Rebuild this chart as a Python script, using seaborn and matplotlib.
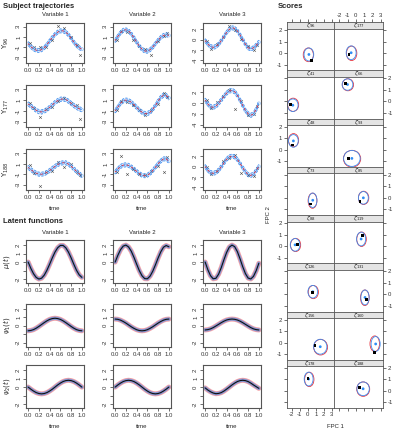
import matplotlib
matplotlib.use("Agg")
import matplotlib.pyplot as plt
from matplotlib.patches import Ellipse
import seaborn as sns

sns.set_style("ticks")
plt.rcParams['font.family'] = ['Liberation Sans', 'DejaVu Sans']
plt.rcParams['axes.unicode_minus'] = False

W, H = 397, 432

# ---- data ----
time = [0.0, 0.05, 0.1, 0.15, 0.2, 0.25, 0.3, 0.35, 0.4, 0.45, 0.5,
        0.55, 0.6, 0.65, 0.7, 0.75, 0.8, 0.85, 0.9, 0.95, 1.0]

# fitted subject curves
y96_v1 = [-0.3, -0.9, -1.35, -1.6, -1.65, -1.5, -1.1, -0.5, 0.2, 0.9, 1.5, 1.95, 2.2, 2.2, 1.95, 1.45, 0.75, 0.0, -0.65, -1.1, -1.4]
y96_v2 = [0.3, 1.1, 1.8, 2.3, 2.4, 2.2, 1.6, 0.85, 0.0, -0.8, -1.4, -1.75, -1.8, -1.5, -1.0, -0.3, 0.35, 0.9, 1.3, 1.45, 1.3]
y96_v3 = [-0.2, -0.85, -1.35, -1.5, -1.35, -0.9, -0.2, 0.6, 1.4, 2.0, 2.3, 2.2, 1.7, 0.9, 0.0, -0.9, -1.6, -1.8, -1.6, -1.1, -0.5]
y177_v1 = [0.3, -0.1, -0.5, -0.9, -1.15, -1.2, -1.05, -0.75, -0.35, 0.1, 0.55, 0.9, 1.15, 1.2, 1.1, 0.8, 0.4, 0.0, -0.35, -0.6, -0.8]
y177_v2 = [-1.0, -0.3, 0.4, 0.85, 1.0, 0.9, 0.6, 0.15, -0.35, -0.85, -1.25, -1.5, -1.5, -1.25, -0.7, 0.0, 0.8, 1.5, 1.9, 1.85, 1.4]
y177_v3 = [0.5, -0.2, -0.7, -0.8, -0.6, -0.1, 0.55, 1.2, 1.8, 2.2, 2.3, 2.05, 1.4, 0.5, -0.5, -1.4, -2.0, -2.3, -2.0, -1.2, -0.1]
y188_v1 = [0.3, -0.1, -0.5, -0.8, -1.0, -1.0, -0.9, -0.65, -0.3, 0.1, 0.5, 0.85, 1.1, 1.2, 1.2, 0.95, 0.55, 0.05, -0.45, -0.9, -1.3]
y188_v2 = [-0.6, 0.0, 0.5, 0.75, 0.8, 0.7, 0.4, 0.0, -0.45, -0.9, -1.2, -1.3, -1.2, -0.85, -0.3, 0.35, 1.0, 1.55, 1.95, 1.95, 1.5]
y188_v3 = [0.0, -0.7, -1.15, -1.3, -1.15, -0.7, -0.05, 0.7, 1.4, 1.85, 2.0, 1.85, 1.35, 0.6, -0.25, -1.0, -1.55, -1.7, -1.45, -0.8, 0.0]
traj_band = 0.4

# observed data
obs_t = [0.03, 0.11, 0.22, 0.33, 0.44, 0.56, 0.67, 0.79, 0.91, 0.97]
obs96_v1 = [-0.2, -1.0, -1.0, -0.9, 0.5, 3.1, 2.7, 1.0, -0.5, -2.6]
obs96_v2 = [0.5, 2.2, 2.0, 0.4, -0.8, -1.4, -2.6, 0.3, 1.2, 1.8]
obs96_v3 = [-0.3, -1.8, -0.9, 0.5, 2.6, 1.8, 0.2, -1.3, -2.0, -1.1]
obs177_v1 = [0.4, -0.4, -2.2, -0.7, -0.3, 0.9, 1.4, 0.5, 0.0, -2.5]
obs177_v2 = [-0.8, 0.8, 0.6, 0.1, -0.9, -1.8, -0.8, 0.3, 2.3, 1.5]
obs177_v3 = [0.6, -1.0, 0.1, 1.3, 2.4, -1.1, 0.3, -2.3, -2.0, -0.5]
obs188_v1 = [0.7, -0.8, -3.3, -0.5, -0.4, 1.3, 0.4, 0.9, -0.5, -1.2]
obs188_v2 = [-0.6, 2.6, -1.0, 0.0, -1.0, -1.1, -0.4, 0.6, -0.5, 2.4]
obs188_v3 = [0.0, -1.5, -0.8, 1.0, 1.6, 2.2, -1.2, -1.6, -1.8, -0.2]

# latent functions
mu_v1 = [0.0, -0.74, -1.37, -1.81, -2.0, -1.9, -1.54, -0.96, -0.25, 0.5, 1.18, 1.69, 1.96, 1.96, 1.69, 1.18, 0.5, -0.25, -0.96, -1.5, -1.8]
mu_v2 = [0.0, 0.79, 1.46, 1.88, 2.0, 1.78, 1.28, 0.56, -0.24, -1.01, -1.61, -1.95, -1.97, -1.66, -1.08, -0.33, 0.48, 1.21, 1.75, 1.95, 1.8]
mu_v3 = [0.0, -0.9, -1.61, -1.97, -1.91, -1.43, -0.65, 0.28, 1.14, 1.76, 2.0, 1.81, 1.23, 0.38, -0.55, -1.36, -1.88, -1.99, -1.68, -1.02, -0.14]
psi1_v1 = [-0.6, -0.56, -0.46, -0.29, -0.08, 0.15, 0.38, 0.59, 0.76, 0.86, 0.9, 0.86, 0.76, 0.59, 0.38, 0.15, -0.08, -0.29, -0.46, -0.56, -0.6]
psi1_v2 = [0.8, 0.77, 0.67, 0.51, 0.32, 0.1, -0.12, -0.31, -0.47, -0.57, -0.6, -0.57, -0.47, -0.31, -0.12, 0.1, 0.32, 0.51, 0.67, 0.77, 0.8]
psi1_v3 = [-0.5, -0.46, -0.37, -0.22, -0.03, 0.17, 0.37, 0.55, 0.69, 0.77, 0.8, 0.77, 0.69, 0.55, 0.37, 0.17, -0.03, -0.22, -0.37, -0.46, -0.5]
psi2_v1 = [0.0, -0.25, -0.47, -0.65, -0.76, -0.8, -0.76, -0.65, -0.47, -0.25, 0.0, 0.25, 0.47, 0.65, 0.76, 0.8, 0.76, 0.65, 0.47, 0.25, 0.0]
psi2_v2 = [0.0, 0.25, 0.47, 0.65, 0.76, 0.8, 0.76, 0.65, 0.47, 0.25, 0.0, -0.25, -0.47, -0.65, -0.76, -0.8, -0.76, -0.65, -0.47, -0.25, 0.0]
psi2_v3 = [-0.1, -0.35, -0.55, -0.7, -0.78, -0.75, -0.65, -0.47, -0.24, 0.0, 0.25, 0.47, 0.65, 0.76, 0.8, 0.76, 0.65, 0.47, 0.25, 0.05, -0.15]

# scores
score_labels = [r'$\zeta_{96}$', r'$\zeta_{177}$', r'$\zeta_{41}$', r'$\zeta_{66}$',
                r'$\zeta_{48}$', r'$\zeta_{93}$', r'$\zeta_{73}$', r'$\zeta_{85}$',
                r'$\zeta_{88}$', r'$\zeta_{119}$', r'$\zeta_{126}$', r'$\zeta_{131}$',
                r'$\zeta_{156}$', r'$\zeta_{160}$', r'$\zeta_{178}$', r'$\zeta_{188}$']
est_fpc1 = [0.15, -0.56, -1.84, -1.0, -1.77, -0.47, 0.63, 0.92, -1.56, 0.65, 0.63, 1.12, 1.56, 2.41, 0.12, 0.89]
est_fpc2 = [-0.12, 0.03, -0.34, 1.47, 0.76, -0.77, -0.21, 0.0, 0.11, 0.62, 0.23, -0.27, -0.36, -0.12, 1.03, 0.18]
true_fpc1 = [0.51, -0.83, -2.16, -1.24, -1.89, -0.87, 0.36, 0.52, -1.29, 0.85, 0.55, 1.32, 0.92, 2.24, 0.05, 0.41]
true_fpc2 = [-0.62, -0.12, -0.28, 1.55, 0.4, -0.8, -0.54, -0.3, 0.17, 0.9, 0.18, -0.42, -0.27, -0.86, 1.08, 0.3]
red_fpc1 = [0.08, -0.5, -1.8, -0.95, -1.75, -0.45, 0.6, 0.95, -1.5, 0.7, 0.7, 1.1, 1.6, 2.3, 0.2, 0.9]
red_fpc2 = [-0.15, -0.02, -0.3, 1.45, 0.82, -0.8, -0.25, 0.0, 0.1, 0.6, 0.2, -0.3, -0.4, -0.1, 1.0, 0.15]
ell_rx = [0.6, 0.6, 0.65, 0.65, 0.6, 1.0, 0.52, 0.6, 0.6, 0.55, 0.6, 0.5, 0.82, 0.55, 0.55, 0.75]
ell_ry = [0.57, 0.6, 0.55, 0.5, 0.55, 0.7, 0.63, 0.55, 0.55, 0.6, 0.55, 0.65, 0.65, 0.65, 0.6, 0.6]

traj_curves = [[y96_v1, y96_v2, y96_v3], [y177_v1, y177_v2, y177_v3], [y188_v1, y188_v2, y188_v3]]
traj_obs = [[obs96_v1, obs96_v2, obs96_v3], [obs177_v1, obs177_v2, obs177_v3], [obs188_v1, obs188_v2, obs188_v3]]
traj_names = [r'$\mathrm{Y}_{96}$', r'$\mathrm{Y}_{177}$', r'$\mathrm{Y}_{188}$']
latent = [[mu_v1, mu_v2, mu_v3], [psi1_v1, psi1_v2, psi1_v3], [psi2_v1, psi2_v2, psi2_v3]]
latent_names = [r'$\mu(t)$', r'$\psi_1(t)$', r'$\psi_2(t)$']
var_names = ['Variable 1', 'Variable 2', 'Variable 3']

BLUE = '#3d8ef0'
LBLUE = '#7fb2f5'
RED = '#e8323c'
EDGE = '#555555'


def box(x0, y0, x1, y1):
    return [x0 / W, 1 - y1 / H, (x1 - x0) / W, (y1 - y0) / H]


def ftxt(x, y, s, **kw):
    fig.text(x / W, 1 - y / H, s, **kw)


def style_base(ax, yticks, ylabels, ylim):
    ax.set_xlim(-0.04, 1.04)
    ax.set_ylim(*ylim)
    ax.set_xticks([0, 0.2, 0.4, 0.6, 0.8, 1.0])
    ax.set_xticklabels(['0.0', '0.2', '0.4', '0.6', '0.8', '1.0'])
    ax.set_yticks(yticks)
    ax.set_yticklabels(ylabels, rotation=90, va='center')
    ax.tick_params(length=2, width=0.5, labelsize=4.3, pad=1.5, colors='#333333')
    ax.set_xlabel('')
    ax.set_ylabel('')
    for s in ax.spines.values():
        s.set_visible(True)
        s.set_color(EDGE)
        s.set_linewidth(0.8)


fig = plt.figure(figsize=(W / 100, H / 100), dpi=100)

cols_x = [(26, 84), (113, 171), (203, 261)]
traj_rows = [(22.7, 62.7), (85, 127.3), (149.3, 190)]
latent_rows = [(240, 283.3), (304, 346.7), (365, 408.3)]

ftxt(3, 6, 'Subject trajectories', fontsize=5.5, fontweight='bold', va='center')
ftxt(3, 222, 'Latent functions', fontsize=5.5, fontweight='bold', va='center')

for j, (x0, x1) in enumerate(cols_x):
    ftxt((x0 + x1) / 2, 15, var_names[j], fontsize=4.3, ha='center', va='center')
    ftxt((x0 + x1) / 2, 233, var_names[j], fontsize=4.3, ha='center', va='center')
    ftxt((x0 + x1) / 2, 209, 'time', fontsize=4.3, ha='center', va='center')
    ftxt((x0 + x1) / 2, 427, 'time', fontsize=4.3, ha='center', va='center')

# subject trajectories
for i, (y0, y1) in enumerate(traj_rows):
    ftxt(6, (y0 + y1) / 2, traj_names[i], fontsize=5, rotation=90, ha='center', va='center')
    for j, (x0, x1) in enumerate(cols_x):
        ax = fig.add_axes(box(x0, y0, x1, y1))
        est = traj_curves[i][j]
        sns.scatterplot(x=time, y=est, ax=ax, marker='o', s=5, facecolor='none',
                        edgecolor=LBLUE, linewidth=0.4, legend=False)
        sns.scatterplot(x=obs_t, y=traj_obs[i][j], ax=ax, marker='x', s=4,
                        color='#555555', linewidth=0.4, legend=False)
        sns.lineplot(x=time, y=[v + traj_band for v in est], ax=ax, color=BLUE,
                     lw=0.55, linestyle=(0, (3, 2)))
        sns.lineplot(x=time, y=[v - traj_band for v in est], ax=ax, color=BLUE,
                     lw=0.55, linestyle=(0, (3, 2)))
        sns.lineplot(x=time, y=est, ax=ax, color=BLUE, lw=0.6)
        sns.lineplot(x=time, y=est, ax=ax, color=RED, lw=0.6, linestyle=(1, (3, 3)))
        if j < 2:
            style_base(ax, [-3, -1, 1, 3], ['-3', '-1', '1', '3'], (-4.05, 3.8))
        else:
            style_base(ax, [-4, -2, 0, 2], ['-4', '-2', '0', '2'], (-4.5, 3.3))

# latent functions
for i, (y0, y1) in enumerate(latent_rows):
    ftxt(6, (y0 + y1) / 2, latent_names[i], fontsize=5, rotation=90, ha='center', va='center')
    for j, (x0, x1) in enumerate(cols_x):
        ax = fig.add_axes(box(x0, y0, x1, y1))
        f = latent[i][j]
        sns.lineplot(x=time, y=f, ax=ax, color=RED, lw=3.6, alpha=0.45)
        sns.lineplot(x=time, y=f, ax=ax, color=BLUE, lw=2.4, alpha=0.6)
        sns.lineplot(x=time, y=f, ax=ax, color='#111111', lw=0.8)
        style_base(ax, [-2, -1, 0, 1, 2], ['-2', '', '0', '1', '2'], (-2.5, 2.6))

# scores lattice
ftxt(290, 6, 'Scores', fontsize=5.5, fontweight='bold', ha='center', va='center')
score_cols = [(286.7, 334.3), (334.3, 383)]
score_xlim = (-2.6, 3.3)
score_xticks = [-2, -1, 0, 1, 2, 3]
row_h = 48.25
strip_h = 6.5
for k in range(16):
    r, c = k // 2, k % 2
    top = 22 + r * row_h
    x0, x1 = score_cols[c]
    sax = fig.add_axes(box(x0, top, x1, top + strip_h))
    sax.set_facecolor('#e4e4e4')
    sax.set_xlim(*score_xlim)
    sax.set_yticks([])
    if r == 0:
        sax.set_xticks(score_xticks)
        sax.tick_params(axis='x', length=2, width=0.5, labelsize=4.3, pad=1.2,
                        colors='#333333', top=True, bottom=False,
                        labeltop=(c == 1), labelbottom=False)
    else:
        sax.set_xticks([])
    for s in sax.spines.values():
        s.set_color(EDGE)
        s.set_linewidth(0.6)
    sax.text(0.5, 0.45, score_labels[k], transform=sax.transAxes, fontsize=4,
             ha='center', va='center')

    ax = fig.add_axes(box(x0, top + strip_h, x1, top + row_h))
    ax.add_patch(Ellipse((red_fpc1[k], red_fpc2[k]), 2 * ell_rx[k] * 1.05, 2 * ell_ry[k] * 1.05,
                         fill=False, ec=RED, lw=0.6))
    ax.add_patch(Ellipse((est_fpc1[k], est_fpc2[k]), 2 * ell_rx[k], 2 * ell_ry[k],
                         fill=False, ec=BLUE, lw=0.6))
    sns.scatterplot(x=[est_fpc1[k]], y=[est_fpc2[k]], ax=ax, color='#2f8df5', s=4,
                    edgecolor='none', legend=False)
    sns.scatterplot(x=[true_fpc1[k]], y=[true_fpc2[k]], ax=ax, color='black', s=4,
                    marker='s', edgecolor='none', legend=False)
    ax.set_xlim(*score_xlim)
    ax.set_ylim(-1.5, 2.15)
    ax.set_xticks(score_xticks)
    ax.set_yticks([-1, 0, 1, 2])
    ax.set_xlabel('')
    ax.set_ylabel('')
    for s in ax.spines.values():
        s.set_color(EDGE)
        s.set_linewidth(0.6)
    ax.tick_params(length=2, width=0.5, labelsize=4.3, pad=1.2, colors='#333333',
                   left=(c == 0), labelleft=(c == 0 and r % 2 == 0),
                   right=(c == 1), labelright=(c == 1 and r % 2 == 1),
                   top=False, labeltop=False,
                   bottom=(r == 7), labelbottom=(r == 7 and c == 0))

ftxt(335, 427, 'FPC 1', fontsize=4.3, ha='center', va='center')
ftxt(269, 215, 'FPC 2', fontsize=4.3, rotation=90, ha='center', va='center')

fig.savefig('out.png', dpi=100)
